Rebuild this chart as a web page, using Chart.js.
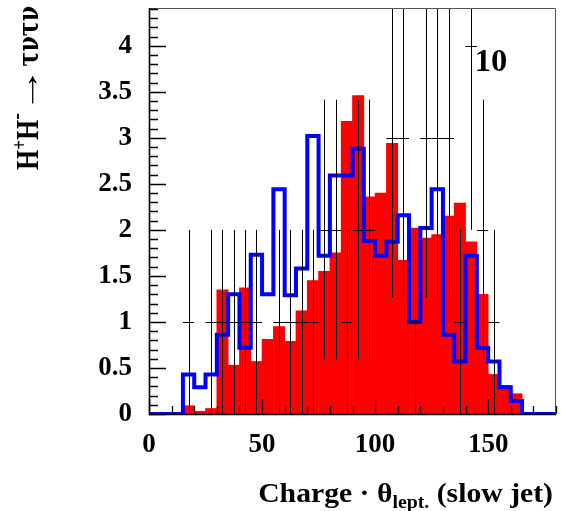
<!DOCTYPE html>
<html>
<head>
<meta charset="utf-8">
<script src="https://cdn.jsdelivr.net/npm/chart.js@4/dist/chart.umd.min.js"></script>
<style>
  html, body { margin: 0; padding: 0; background: #ffffff; }
  canvas { display: block; }
</style>
</head>
<body>
<canvas id="chart" width="561" height="511"></canvas>
<script>
// Histogram binning: 36 bins of width 5 from 0 to 180
const binWidth = 5;
const binLowEdges = [0, 5, 10, 15, 20, 25, 30, 35, 40, 45, 50, 55, 60, 65, 70, 75, 80, 85,
                     90, 95, 100, 105, 110, 115, 120, 125, 130, 135, 140, 145, 150, 155, 160, 165, 170, 175];

// Signal expectation H+H- -> tau nu tau nu (filled red)
const signalMC = [0, 0, 0, 0.09, 0.03, 0.06, 1.35, 0.53, 1.37, 0.57, 0.81, 0.95, 0.79, 1.12, 1.45, 1.55, 1.75, 3.18,
                  3.46, 2.36, 2.40, 2.94, 1.67, 2.02, 1.91, 1.95, 2.15, 2.29, 1.87, 1.30, 0.43, 0.31, 0.22, 0, 0, 0];

// Background expectation (blue outline)
const backgroundMC = [0, 0, 0, 0.43, 0.29, 0.43, 0.86, 1.30, 0.72, 1.73, 1.30, 2.44, 1.29, 1.58, 3.02, 1.72, 2.59, 2.59,
                      2.88, 1.88, 1.72, 1.87, 2.16, 1.00, 2.02, 2.44, 0.86, 0.57, 1.72, 0.72, 0.57, 0.29, 0.14, 0, 0, 0];

// Observed event counts (black points with Poisson errors)
const dataCounts = [0, 0, 0, 1, 0, 1, 1, 1, 1, 1, 0, 1, 1, 1, 1, 2, 2, 1,
                    2, 2, 0, 3, 3, 1, 3, 3, 3, 1, 4, 2, 1, 0, 0, 0, 0, 0];

// Axis ticks
const xTickValues = [0, 50, 100, 150];
const xTickLabels = ['0', '50', '100', '150'];
const yTickValues = [0, 0.5, 1, 1.5, 2, 2.5, 3, 3.5, 4];
const yTickLabels = ['0', '0.5', '1', '1.5', '2', '2.5', '3', '3.5', '4'];
const xRange = [0, 180];
const yRange = [0, 4.41];

const panelLabel = '10';
const SERIF = "'Liberation Serif', 'Times New Roman', serif";
const GREEK = "'DejaVu Serif', 'Liberation Serif', serif";

// Build chart-ready point lists from the arrays above
const signalPoints = binLowEdges.map((lo, i) => ({ x: lo + binWidth / 2, y: signalMC[i] }));
const backgroundSteps = binLowEdges.map((lo, i) => ({ x: lo, y: backgroundMC[i] }));
backgroundSteps.push({ x: xRange[1], y: backgroundMC[backgroundMC.length - 1] });
const dataPoints = [];
binLowEdges.forEach((lo, i) => {
  if (dataCounts[i] > 0) dataPoints.push({ x: lo + binWidth / 2, y: dataCounts[i] });
});

// Draws a run of text pieces (sub/superscripts, per-piece horizontal scale) on a baseline at (0, 0)
function drawRuns(ctx, runs, align) {
  let total = 0;
  runs.forEach(r => {
    ctx.font = `bold ${r.size}px ${r.family || SERIF}`;
    r.w = ctx.measureText(r.t).width * (r.sx || 1);
    total += r.w;
  });
  let cx = align === 'right' ? -total : (align === 'center' ? -total / 2 : 0);
  ctx.textAlign = 'left';
  ctx.textBaseline = 'alphabetic';
  runs.forEach(r => {
    ctx.save();
    ctx.font = `bold ${r.size}px ${r.family || SERIF}`;
    ctx.translate(cx, r.dy || 0);
    ctx.scale(r.sx || 1, 1);
    ctx.fillText(r.t, 0, 0);
    ctx.restore();
    cx += r.w;
  });
}

// Poisson error bars for the observed counts, plus inward axis ticks and frame
const rootStylePlugin = {
  id: 'rootStyle',
  afterDatasetsDraw(chart) {
    const { ctx, chartArea: a, scales: { x, y } } = chart;
    ctx.save();
    ctx.beginPath();
    ctx.rect(a.left, a.top, a.right - a.left, a.bottom - a.top);
    ctx.clip();
    ctx.strokeStyle = '#000000';
    ctx.lineWidth = 1;
    chart.data.datasets[2].data.forEach(p => {
      const err = Math.sqrt(p.y);
      const px = Math.round(x.getPixelForValue(p.x)) + 0.5;
      const py = Math.round(y.getPixelForValue(p.y)) + 0.5;
      ctx.beginPath();
      ctx.moveTo(px, y.getPixelForValue(Math.max(0, p.y - err)));
      ctx.lineTo(px, y.getPixelForValue(p.y + err));
      ctx.moveTo(x.getPixelForValue(p.x - binWidth / 2), py);
      ctx.lineTo(x.getPixelForValue(p.x + binWidth / 2), py);
      ctx.stroke();
    });
    ctx.restore();

    ctx.save();
    // frame (top / right)
    ctx.strokeStyle = '#555555';
    ctx.lineWidth = 1;
    ctx.beginPath();
    ctx.moveTo(a.left, a.top + 0.5);
    ctx.lineTo(a.right - 0.5, a.top + 0.5);
    ctx.lineTo(a.right - 0.5, a.bottom);
    ctx.stroke();
    // axes
    ctx.strokeStyle = '#000000';
    ctx.lineWidth = 1.6;
    ctx.beginPath();
    ctx.moveTo(a.left + 0.5, a.top);
    ctx.lineTo(a.left + 0.5, a.bottom + 0.5);
    ctx.lineTo(a.right, a.bottom + 0.5);
    ctx.stroke();
    // ticks pointing into the plot
    ctx.lineWidth = 1.3;
    ctx.beginPath();
    for (let v = 0; v <= yRange[1] + 1e-9; v += 0.1) {
      const major = Math.abs(v / 0.5 - Math.round(v / 0.5)) < 1e-6;
      const py = Math.round(y.getPixelForValue(v)) + 0.5;
      ctx.moveTo(a.left, py);
      ctx.lineTo(a.left + (major ? 17 : 9), py);
    }
    for (let v = 0; v <= xRange[1] + 1e-9; v += 10) {
      const major = v % 50 === 0;
      const px = Math.round(x.getPixelForValue(v)) + 0.5;
      ctx.moveTo(px, a.bottom);
      ctx.lineTo(px, a.bottom - (major ? 15 : 8));
    }
    ctx.stroke();
    ctx.restore();
  },
  afterDraw(chart) {
    const { ctx } = chart;
    ctx.fillStyle = '#000000';
    // panel number
    ctx.save();
    ctx.translate(491, 71);
    drawRuns(ctx, [{ t: panelLabel, size: 31, sx: 1.05 }], 'center');
    ctx.restore();
    // x-axis title
    ctx.save();
    ctx.translate(553, 502);
    drawRuns(ctx, [
      { t: 'Charge \u00b7 \u03b8', size: 27, sx: 1.1 },
      { t: 'lept.', size: 18, dy: 6, sx: 1.1 },
      { t: ' (slow jet)', size: 27, sx: 1.1 }
    ], 'right');
    ctx.restore();
    // y-axis title (rotated)
    ctx.save();
    ctx.translate(38, 88);
    ctx.rotate(-Math.PI / 2);
    ctx.scale(1, 1.2);
    drawRuns(ctx, [
      { t: 'H', size: 26 },
      { t: '+', size: 17, dy: -10 },
      { t: 'H', size: 26 },
      { t: '-', size: 20, dy: -12 },
      { t: '\u2192', size: 26, sx: 1.8 },
      { t: '\u03c4\u03bd\u03c4\u03bd', size: 24, sx: 0.92, family: GREEK }
    ], 'center');
    ctx.restore();
  }
};

const tickFont = { family: SERIF, weight: 'bold', size: 27 };

new Chart(document.getElementById('chart'), {
  type: 'bar',
  data: {
    datasets: [
      {
        type: 'line',
        label: 'background',
        data: backgroundSteps,
        stepped: 'before',
        borderColor: '#0000ff',
        borderWidth: 4,
        borderJoinStyle: 'miter',
        borderCapStyle: 'butt',
        pointRadius: 0,
        fill: false,
        order: 1
      },
      {
        type: 'bar',
        label: 'signal',
        data: signalPoints,
        backgroundColor: '#ff0000',
        borderWidth: 0,
        barPercentage: 1,
        categoryPercentage: 1,
        grouped: false,
        order: 2
      },
      {
        type: 'scatter',
        label: 'data',
        data: dataPoints,
        pointRadius: 0,
        showLine: false,
        order: 0
      }
    ]
  },
  options: {
    responsive: false,
    animation: false,
    events: [],
    layout: { padding: { left: 0, right: 5, top: 8, bottom: 0 } },
    plugins: { legend: { display: false }, tooltip: { enabled: false } },
    scales: {
      x: {
        type: 'linear',
        min: xRange[0],
        max: xRange[1],
        offset: false,
        grid: { display: false, drawTicks: false },
        border: { display: false },
        ticks: {
          font: tickFont,
          color: '#000000',
          padding: 15,
          maxRotation: 0,
          autoSkip: false,
          callback: (v, i) => xTickLabels[i]
        },
        afterBuildTicks: s => { s.ticks = xTickValues.map(v => ({ value: v })); },
        afterFit: s => { s.height = 97; s.paddingLeft = 0; s.paddingRight = 0; }
      },
      y: {
        type: 'linear',
        min: yRange[0],
        max: yRange[1],
        grid: { display: false, drawTicks: false },
        border: { display: false },
        ticks: {
          font: tickFont,
          color: '#000000',
          padding: 17,
          autoSkip: false,
          callback: (v, i) => yTickLabels[i]
        },
        afterBuildTicks: s => { s.ticks = yTickValues.map(v => ({ value: v })); },
        afterFit: s => { s.width = 149; s.paddingTop = 0; s.paddingBottom = 0; }
      }
    }
  },
  plugins: [rootStylePlugin]
});
</script>
</body>
</html>
